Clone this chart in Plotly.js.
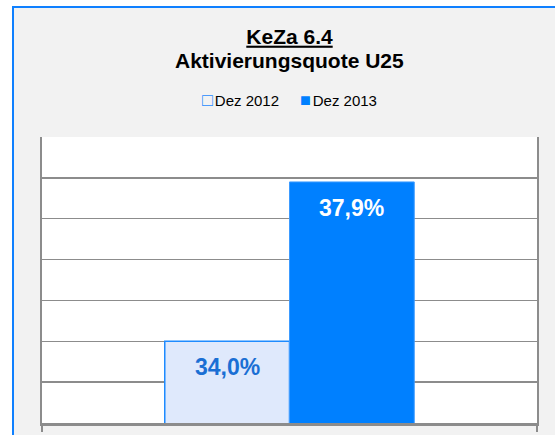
<!DOCTYPE html>
<html>
<head>
<meta charset="utf-8">
<script src="https://cdn.plot.ly/plotly-3.0.1.min.js"></script>
<style>
  html, body { margin: 0; padding: 0; background: #ffffff; overflow: hidden; width: 555px; height: 435px; }
  #frame { position: absolute; left: 12px; top: 6px; border-left: 2px solid #0f80ff; border-top: 2px solid #0f80ff; background: #f2f2f2; }
  #chart { width: 560px; height: 440px; }
</style>
</head>
<body>
<div id="frame"><div id="chart"></div></div>
<script>
// ---- data ----
const categories = ['Aktivierungsquote U25'];
const seriesNames = ['Dez 2012', 'Dez 2013'];
const valuesDez2012 = [34.0];
const valuesDez2013 = [37.9];
const titleLines = ['KeZa 6.4', 'Aktivierungsquote U25'];

// ---- styles ----
const fillColors = ['#dfe9fc', '#0080ff'];
const lineColors = ['#1e8bff', '#3d9bff'];
const lineWidths = [1.5, 1];
const labelColors = ['#1a6fd4', '#ffffff'];
const FONT = 'Liberation Sans, Arial, sans-serif';

const W = 560, H = 440;
const margin = {l: 28, r: 37, t: 129, b: 25, pad: 0};
const bargap = 0.496;

const seriesValues = [valuesDez2012, valuesDez2013];
const traces = seriesValues.map((vals, i) => ({
  type: 'bar',
  name: seriesNames[i],
  x: categories,
  y: vals,
  marker: {color: fillColors[i], line: {color: lineColors[i], width: lineWidths[i]}},
  hoverinfo: 'skip',
  showlegend: false
}));

// value labels placed over each bar (shift derived from layout geometry)
const plotW = W - margin.l - margin.r;
const n = seriesValues.length;
const barPx = (1 - bargap) * plotW / n;
const fmt = v => v.toFixed(1).replace('.', ',') + '%';
const annotations = [];
seriesValues.forEach((vals, i) => {
  vals.forEach((v, j) => {
    annotations.push({
      xref: 'x', yref: 'y', x: categories[j], y: v,
      xanchor: 'center', yanchor: 'top',
      xshift: (i - (n - 1) / 2) * barPx,
      yshift: -11,
      text: '<b>' + fmt(v) + '</b>',
      showarrow: false,
      font: {family: FONT, size: 23, color: labelColors[i]}
    });
  });
});

// second title line
annotations.push({
  xref: 'paper', yref: 'paper', x: 0.5, y: 1,
  xanchor: 'center', yanchor: 'bottom', yshift: 63,
  text: '<b>' + titleLines[1] + '</b>', showarrow: false,
  font: {family: FONT, size: 21, color: '#000000'}
});

// legend line (symbols as text glyphs)
const symbols = ['\u25A1', '\u25A0'];
const symColors = [lineColors[0], fillColors[1]];
const sp = '\u00a0\u00a0\u00a0\u00a0\u00a0';
const legendText = seriesNames.map((nm, i) =>
  '<span style="color:' + symColors[i] + ';font-size:18px">' + symbols[i] + '</span>' +
  '<span style="font-size:7px">\u00a0</span>' + nm
).join(sp);
annotations.push({
  xref: 'paper', yref: 'paper', x: 0.5, y: 1,
  xanchor: 'center', yanchor: 'bottom', yshift: 25,
  text: legendText, showarrow: false,
  font: {family: FONT, size: 15, color: '#000000'}
});

const layout = {
  width: W, height: H,
  margin: margin,
  paper_bgcolor: '#f2f2f2',
  plot_bgcolor: '#ffffff',
  barmode: 'group',
  bargap: bargap,
  bargroupgap: 0,
  showlegend: false,
  title: {
    text: '<u>' + titleLines[0] + '</u>',
    font: {family: FONT, size: 21, color: '#000000', weight: 'bold'},
    x: 0.5, xref: 'paper', xanchor: 'center',
    y: 1 - 21 / H, yref: 'container', yanchor: 'top'
  },
  xaxis: {
    type: 'category',
    showticklabels: false,
    ticks: 'outside', tickson: 'boundaries', ticklen: 6, tickwidth: 2, tickcolor: '#8c8c8c',
    showline: true, linecolor: '#8c8c8c', linewidth: 2.5,
    showgrid: false, zeroline: false, fixedrange: true
  },
  yaxis: {
    range: [32, 39], tick0: 32, dtick: 1,
    showticklabels: false, ticks: '',
    showgrid: true, gridcolor: '#8c8c8c', gridwidth: 1.3,
    showline: true, linecolor: '#8c8c8c', linewidth: 2, mirror: true,
    zeroline: false, fixedrange: true
  },
  annotations: annotations,
  font: {family: FONT}
};

Plotly.newPlot('chart', traces, layout, {staticPlot: true, displayModeBar: false});
</script>
</body>
</html>
